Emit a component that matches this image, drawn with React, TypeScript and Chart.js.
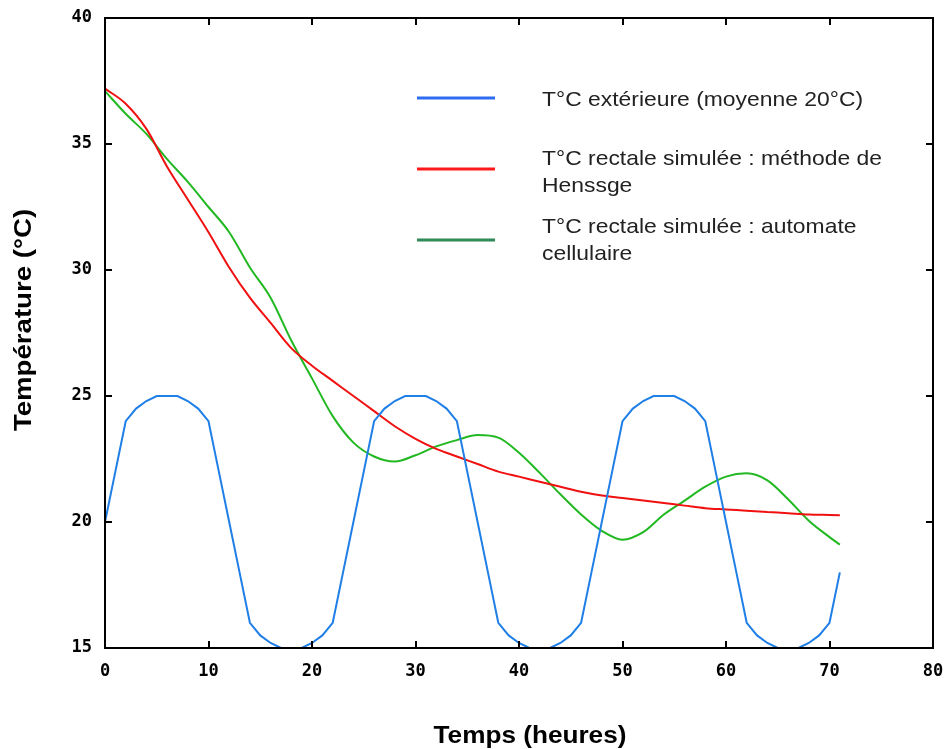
import { useEffect, useRef } from "react";
import { Chart, registerables } from "chart.js";

Chart.register(...registerables);

// Hourly outside temperature (°C)
const hoursExt = [
  0, 1, 2, 3, 4, 5, 6, 7, 8, 9, 10, 11, 12, 13, 14, 15, 16, 17, 18, 19, 20, 21, 22, 23,
  24, 25, 26, 27, 28, 29, 30, 31, 32, 33, 34, 35, 36, 37, 38, 39, 40, 41, 42, 43, 44, 45, 46, 47,
  48, 49, 50, 51, 52, 53, 54, 55, 56, 57, 58, 59, 60, 61, 62, 63, 64, 65, 66, 67, 68, 69, 70, 71,
];
const tempExt = [
  20, 22, 24, 24.5, 24.8, 25, 25, 25, 24.8, 24.5, 24, 22, 20, 18, 16, 15.5, 15.2, 15, 15, 15, 15.2, 15.5, 16, 18,
  20, 22, 24, 24.5, 24.8, 25, 25, 25, 24.8, 24.5, 24, 22, 20, 18, 16, 15.5, 15.2, 15, 15, 15, 15.2, 15.5, 16, 18,
  20, 22, 24, 24.5, 24.8, 25, 25, 25, 24.8, 24.5, 24, 22, 20, 18, 16, 15.5, 15.2, 15, 15, 15, 15.2, 15.5, 16, 18,
];

// Simulated rectal temperatures
const hoursSim = [
  0, 2, 4, 6, 8, 10, 12, 14, 16, 18, 20, 22, 24, 26, 28, 30, 32, 34, 36, 38, 40, 42, 44, 46,
  48, 50, 52, 54, 56, 58, 60, 62, 64, 66, 68, 70, 71,
];
const tempHenssge = [
  37.2, 36.6, 35.6, 34.1, 32.8, 31.5, 30.1, 28.9, 27.9, 26.9, 26.2, 25.6, 25.0, 24.4, 23.8, 23.3,
  22.9, 22.6, 22.3, 22.0, 21.8, 21.6, 21.4, 21.2, 21.05, 20.95, 20.85, 20.75, 20.65, 20.55, 20.5,
  20.45, 20.4, 20.35, 20.3, 20.28, 20.27,
];
const tempAutomate = [
  37.1, 36.2, 35.4, 34.4, 33.5, 32.5, 31.5, 30.1, 28.9, 27.2, 25.7, 24.2, 23.15, 22.6, 22.4, 22.65,
  23.0, 23.25, 23.45, 23.35, 22.75, 21.95, 21.1, 20.3, 19.65, 19.3, 19.6, 20.3, 20.85, 21.4, 21.8,
  21.93, 21.65, 20.9, 20.05, 19.4, 19.1,
];

const xTickValues = [0, 10, 20, 30, 40, 50, 60, 70, 80];
const yTickValues = [15, 20, 25, 30, 35, 40];

const legendLines = [
  ["T°C extérieure (moyenne 20°C)"],
  ["T°C rectale simulée : méthode de", "Henssge"],
  ["T°C rectale simulée : automate", "cellulaire"],
];
const legendColors = ["#2f6cf0", "#ff1a1a", "#2e8b57"];
const xTitle = "Temps (heures)";
const yTitle = "Température (°C)";

function stretchText(ctx: CanvasRenderingContext2D, text: string, x: number, y: number, sx: number) {
  ctx.save();
  ctx.translate(x, y);
  ctx.scale(sx, 1);
  ctx.fillText(text, 0, 0);
  ctx.restore();
}

const decorPlugin = {
  id: "decor",
  afterDraw(chart: any) {
    const ctx: CanvasRenderingContext2D = chart.ctx;
    const a = chart.chartArea;
    const xs = chart.scales.x;
    const ys = chart.scales.y;
    ctx.save();
    // frame
    ctx.strokeStyle = "#000";
    ctx.lineWidth = 2;
    ctx.strokeRect(a.left, a.top, a.right - a.left, a.bottom - a.top);
    // inward ticks
    const tl = 7;
    ctx.beginPath();
    xTickValues.forEach((v) => {
      const px = Math.round(xs.getPixelForValue(v));
      ctx.moveTo(px, a.bottom);
      ctx.lineTo(px, a.bottom - tl);
      ctx.moveTo(px, a.top);
      ctx.lineTo(px, a.top + tl);
    });
    yTickValues.forEach((v) => {
      const py = Math.round(ys.getPixelForValue(v));
      ctx.moveTo(a.left, py);
      ctx.lineTo(a.left + tl, py);
      ctx.moveTo(a.right, py);
      ctx.lineTo(a.right - tl, py);
    });
    ctx.stroke();

    // legend
    const lineY = [98, 169, 240];
    const textY = [[106], [165, 192], [233, 260]];
    ctx.font = "21px 'Liberation Sans', Arial, sans-serif";
    ctx.textAlign = "left";
    ctx.textBaseline = "alphabetic";
    legendLines.forEach((lines, i) => {
      ctx.strokeStyle = legendColors[i];
      ctx.lineWidth = 3;
      ctx.beginPath();
      ctx.moveTo(417, lineY[i]);
      ctx.lineTo(495, lineY[i]);
      ctx.stroke();
      ctx.fillStyle = "#222";
      lines.forEach((t, j) => stretchText(ctx, t, 542, textY[i][j], 1.09));
    });

    // axis titles
    ctx.fillStyle = "#000";
    ctx.font = "bold 24px 'Liberation Sans', Arial, sans-serif";
    ctx.textAlign = "center";
    ctx.textBaseline = "alphabetic";
    stretchText(ctx, xTitle, 530, 743, 1.09);
    ctx.save();
    ctx.translate(31, 320);
    ctx.rotate(-Math.PI / 2);
    ctx.scale(1.15, 1);
    ctx.fillText(yTitle, 0, 0);
    ctx.restore();
    ctx.restore();
  },
};

export default function App() {
  const canvasRef = useRef<HTMLCanvasElement | null>(null);

  useEffect(() => {
    if (!canvasRef.current) return;
    const tickFont = { family: "'DejaVu Sans Mono', monospace", weight: "bold" as const, size: 17 };
    const chart = new Chart(canvasRef.current, {
      type: "line",
      data: {
        datasets: [
          {
            label: legendLines[0].join(" "),
            data: hoursExt.map((h, i) => ({ x: h, y: tempExt[i] })),
            borderColor: "#1f7fe6",
            borderWidth: 2,
            pointRadius: 0,
            tension: 0,
          },
          {
            label: legendLines[1].join(" "),
            data: hoursSim.map((h, i) => ({ x: h, y: tempHenssge[i] })),
            borderColor: "#f01010",
            borderWidth: 2,
            pointRadius: 0,
            cubicInterpolationMode: "monotone",
          },
          {
            label: legendLines[2].join(" "),
            data: hoursSim.map((h, i) => ({ x: h, y: tempAutomate[i] })),
            borderColor: "#22b822",
            borderWidth: 2,
            pointRadius: 0,
            cubicInterpolationMode: "monotone",
          },
        ],
      },
      options: {
        animation: false,
        responsive: true,
        maintainAspectRatio: false,
        layout: { padding: { left: 0, right: 16, top: 18, bottom: 0 } },
        plugins: { legend: { display: false }, tooltip: { enabled: false } },
        scales: {
          x: {
            type: "linear",
            min: 0,
            max: 80,
            afterBuildTicks: (s: any) => {
              s.ticks = xTickValues.map((v) => ({ value: v }));
            },
            afterFit: (s: any) => {
              s.height = 101;
              s.paddingLeft = 0;
              s.paddingRight = 0;
            },
            grid: { display: false },
            border: { display: false },
            ticks: { font: tickFont, color: "#000", padding: 5, maxRotation: 0, autoSkip: false },
          },
          y: {
            type: "linear",
            min: 15,
            max: 40,
            afterBuildTicks: (s: any) => {
              s.ticks = yTickValues.map((v) => ({ value: v }));
            },
            afterFit: (s: any) => {
              s.width = 105;
              s.paddingTop = 0;
              s.paddingBottom = 0;
            },
            grid: { display: false },
            border: { display: false },
            ticks: { font: tickFont, color: "#000", padding: 5, autoSkip: false },
          },
        },
      },
      plugins: [decorPlugin],
    });
    return () => chart.destroy();
  }, []);

  return (
    <div style={{ position: "fixed", left: 0, top: 0, width: 949, height: 749, background: "#fff" }}>
      <canvas ref={canvasRef} />
    </div>
  );
}
